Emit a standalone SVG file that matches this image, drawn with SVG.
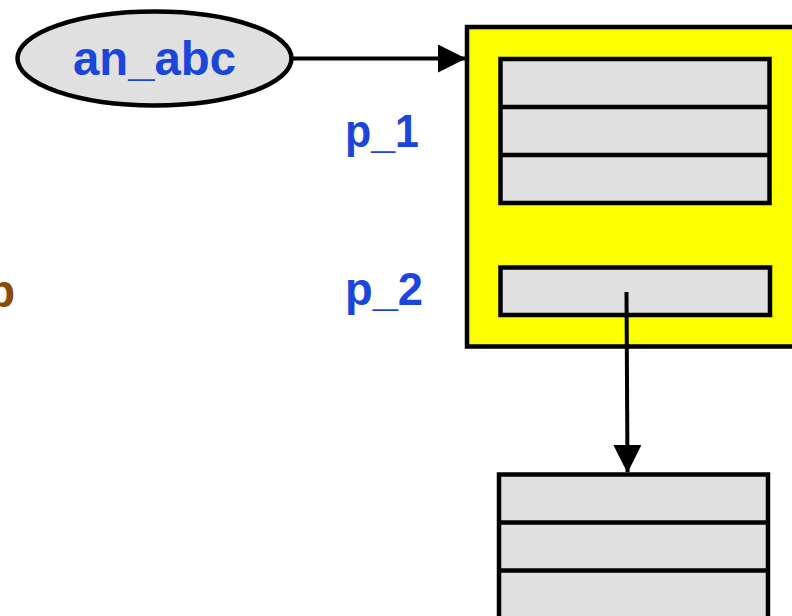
<svg xmlns="http://www.w3.org/2000/svg" width="792" height="616" viewBox="0 0 792 616">
  <style>
    .box { fill: #e0e0e0; stroke: #000; stroke-width: 4.5; }
    .div { stroke: #000; stroke-width: 4.5; }
    .lbl { font-family: "Liberation Sans", Arial, Helvetica, sans-serif; font-weight: bold; fill: #1a46d9; }
    .edge { stroke: #000; stroke-width: 4; fill: none; }
  </style>
  <defs>
    <marker id="arrow" markerUnits="userSpaceOnUse" markerWidth="28" markerHeight="28" refX="27" refY="14" orient="auto">
      <path d="M0,0 L28,14 L0,28 Z" fill="#000"/>
    </marker>
  </defs>
  <rect width="792" height="616" fill="#fff"/>

  <!-- cut-off label at the left edge -->
  <text x="15" y="307" class="lbl" style="fill:#8b4a05" font-size="46" text-anchor="end">p</text>

  <g id="an_abc">
    <ellipse cx="154.5" cy="58.5" rx="137" ry="47" fill="#e0e0e0" stroke="#000" stroke-width="4.5"/>
    <text x="154.5" y="75" class="lbl" font-size="48" text-anchor="middle" textLength="163" lengthAdjust="spacingAndGlyphs">an_abc</text>
  </g>

  <g id="object">
    <rect x="467" y="27" width="340" height="319.5" fill="#fbff00" stroke="#000" stroke-width="4.5"/>
  </g>

  <g id="p_1">
    <text x="345" y="147" class="lbl" font-size="46" textLength="74" lengthAdjust="spacingAndGlyphs">p_1</text>
    <rect x="500.5" y="59" width="269" height="144" class="box"/>
    <line x1="500.5" y1="107" x2="769.5" y2="107" class="div"/>
    <line x1="500.5" y1="155" x2="769.5" y2="155" class="div"/>
  </g>

  <g id="p_2">
    <text x="345" y="305" class="lbl" font-size="46" textLength="78" lengthAdjust="spacingAndGlyphs">p_2</text>
    <rect x="500.5" y="267.5" width="269.5" height="47.5" class="box"/>
  </g>

  <g id="target">
    <rect x="499" y="474.5" width="269" height="170" class="box"/>
    <line x1="499" y1="522.5" x2="768" y2="522.5" class="div"/>
    <line x1="499" y1="570.5" x2="768" y2="570.5" class="div"/>
  </g>

  <g id="connectors">
    <line x1="292" y1="58.5" x2="465" y2="58.5" class="edge" marker-end="url(#arrow)"/>
    <line x1="626.5" y1="292" x2="627.5" y2="472" class="edge" marker-end="url(#arrow)"/>
  </g>
</svg>
